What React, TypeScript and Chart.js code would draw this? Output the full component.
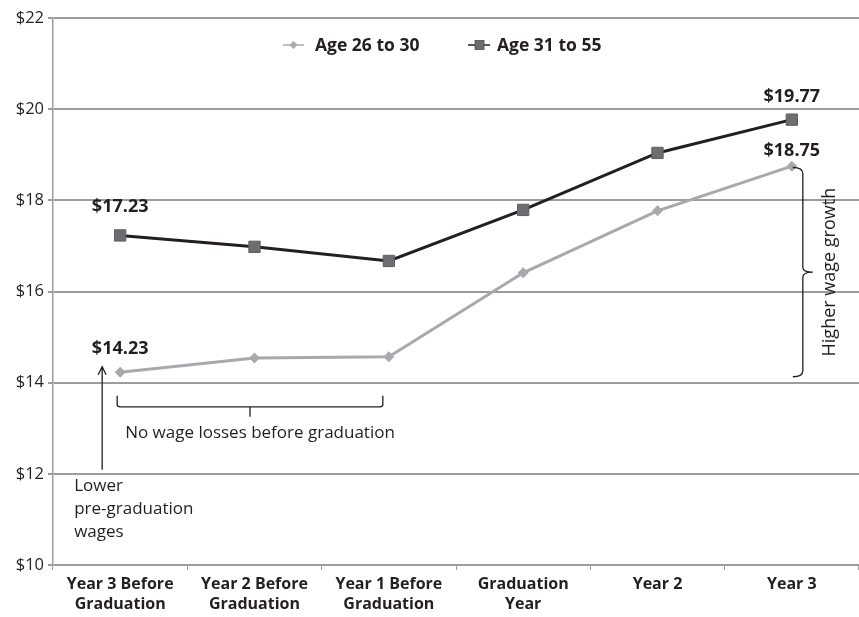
import React, { useEffect, useRef } from "react";
import { Chart, registerables } from "chart.js";

Chart.register(...registerables);

const categories: string[][] = [
  ["Year 3 Before", "Graduation"],
  ["Year 2 Before", "Graduation"],
  ["Year 1 Before", "Graduation"],
  ["Graduation", "Year"],
  ["Year 2"],
  ["Year 3"],
];

const age26to30: number[] = [14.23, 14.54, 14.57, 16.41, 17.77, 18.75];
const age31to55: number[] = [17.23, 16.98, 16.67, 17.79, 19.04, 19.77];

const yTicks: number[] = [10, 12, 14, 16, 18, 20, 22];

const FONT = "'Open Sans', 'DejaVu Sans', sans-serif";
const INK = "#231f20";
const LIGHT = "#a7a9ac";
const SQUARE = "#6d6e71";
const GRID = "#9a9c9f";

// Value labels, legend and the explanatory braces/arrow
const annotations = {
  id: "annotations",
  afterDraw(chart: any) {
    const { ctx } = chart;
    const xs = chart.scales.x;
    const ys = chart.scales.y;
    const X = (i: number) => xs.getPixelForValue(i);
    const Y = (v: number) => ys.getPixelForValue(v);

    ctx.save();
    ctx.fillStyle = INK;
    ctx.textAlign = "center";
    ctx.textBaseline = "middle";
    ctx.font = `bold 18px ${FONT}`;
    const last = categories.length - 1;
    ctx.fillText(`$${age31to55[0].toFixed(2)}`, X(0), Y(age31to55[0]) - 29);
    ctx.fillText(`$${age26to30[0].toFixed(2)}`, X(0), Y(age26to30[0]) - 23);
    ctx.fillText(`$${age31to55[last].toFixed(2)}`, X(last), Y(age31to55[last]) - 23);
    ctx.fillText(`$${age26to30[last].toFixed(2)}`, X(last), Y(age26to30[last]) - 15);

    // legend
    const ly = 45;
    ctx.font = `bold 17.5px ${FONT}`;
    ctx.textAlign = "left";
    ctx.strokeStyle = LIGHT;
    ctx.lineWidth = 1.5;
    ctx.beginPath();
    ctx.moveTo(283, ly);
    ctx.lineTo(304, ly);
    ctx.stroke();
    ctx.fillStyle = LIGHT;
    ctx.beginPath();
    ctx.moveTo(293.5, ly - 4);
    ctx.lineTo(297.5, ly);
    ctx.lineTo(293.5, ly + 4);
    ctx.lineTo(289.5, ly);
    ctx.closePath();
    ctx.fill();
    ctx.fillStyle = INK;
    ctx.fillText("Age 26 to 30", 315, ly + 1);

    ctx.strokeStyle = INK;
    ctx.beginPath();
    ctx.moveTo(468, ly);
    ctx.lineTo(490, ly);
    ctx.stroke();
    ctx.fillStyle = SQUARE;
    ctx.fillRect(475, ly - 4.5, 9, 9);
    ctx.strokeStyle = "#4d4d4f";
    ctx.lineWidth = 0.8;
    ctx.strokeRect(475, ly - 4.5, 9, 9);
    ctx.fillStyle = INK;
    ctx.fillText("Age 31 to 55", 497, ly + 1);

    ctx.strokeStyle = INK;
    ctx.lineWidth = 1.3;

    // right brace: growth gap
    const bx = X(last) + 11;
    const top = Y(18.72);
    const bot = Y(14.13);
    const mid = (top + bot) / 2;
    ctx.beginPath();
    ctx.moveTo(bx - 10, top);
    ctx.quadraticCurveTo(bx, top, bx, top + 6);
    ctx.lineTo(bx, mid - 5);
    ctx.quadraticCurveTo(bx, mid, bx + 10, mid);
    ctx.moveTo(bx, mid + 5);
    ctx.quadraticCurveTo(bx, mid, bx + 10, mid);
    ctx.moveTo(bx, mid + 5);
    ctx.lineTo(bx, bot - 6);
    ctx.quadraticCurveTo(bx, bot, bx - 10, bot);
    ctx.stroke();

    ctx.save();
    ctx.translate(bx + 27, mid);
    ctx.rotate(-Math.PI / 2);
    ctx.font = `18px ${FONT}`;
    ctx.textAlign = "center";
    ctx.textBaseline = "middle";
    ctx.fillText("Higher wage growth", 0, 0);
    ctx.restore();

    // bottom brace: pre-graduation period
    const hy = Y(13.47);
    const hl = X(0) - 3;
    const hr = X(2) - 6;
    const hm = (hl + hr) / 2;
    ctx.beginPath();
    ctx.moveTo(hl, hy - 11);
    ctx.lineTo(hl, hy - 2);
    ctx.quadraticCurveTo(hl, hy, hl + 3, hy);
    ctx.lineTo(hr - 3, hy);
    ctx.quadraticCurveTo(hr, hy, hr, hy - 2);
    ctx.lineTo(hr, hy - 11);
    ctx.moveTo(hm, hy);
    ctx.lineTo(hm, hy + 10);
    ctx.stroke();

    ctx.font = `17px ${FONT}`;
    ctx.textAlign = "center";
    ctx.textBaseline = "middle";
    ctx.fillText("No wage losses before graduation", hm + 10, Y(12.9));

    // arrow to the lower starting wage
    const ax = X(0) - 18;
    const aTop = Y(14.35);
    ctx.beginPath();
    ctx.moveTo(ax, Y(12.09));
    ctx.lineTo(ax, aTop);
    ctx.moveTo(ax - 4, aTop + 8);
    ctx.lineTo(ax, aTop);
    ctx.lineTo(ax + 4, aTop + 8);
    ctx.stroke();

    ctx.textAlign = "left";
    const lines = ["Lower", "pre-graduation", "wages"];
    lines.forEach((t, i) => ctx.fillText(t, ax - 28, Y(12.09) + 16 + i * 23));

    ctx.restore();
  },
};

export default function App() {
  const ref = useRef<HTMLCanvasElement | null>(null);

  useEffect(() => {
    if (!ref.current) return;
    const chart = new Chart(ref.current, {
      type: "line",
      data: {
        labels: categories as any,
        datasets: [
          {
            label: "Age 26 to 30",
            data: age26to30,
            borderColor: LIGHT,
            backgroundColor: LIGHT,
            borderWidth: 3,
            pointStyle: "rectRot",
            pointRadius: 5.5,
            pointBackgroundColor: LIGHT,
            pointBorderColor: LIGHT,
            pointBorderWidth: 0,
            tension: 0,
          },
          {
            label: "Age 31 to 55",
            data: age31to55,
            borderColor: INK,
            backgroundColor: SQUARE,
            borderWidth: 3,
            pointStyle: "rect",
            pointRadius: 8,
            pointBackgroundColor: SQUARE,
            pointBorderColor: "#5e5f62",
            pointBorderWidth: 1,
            tension: 0,
          },
        ],
      },
      options: {
        responsive: false,
        animation: false,
        layout: { autoPadding: false, padding: { top: 18, right: 0, left: 0, bottom: 0 } },
        plugins: {
          legend: { display: false },
          tooltip: { enabled: false },
        },
        scales: {
          x: {
            offset: true,
            grid: {
              offset: true,
              drawOnChartArea: false,
              drawTicks: true,
              tickLength: 5,
              color: GRID,
              lineWidth: 1,
            },
            border: { display: false },
            ticks: {
              color: INK,
              font: { family: FONT, size: 16, weight: "bold", lineHeight: 1.25 },
              padding: 4,
              maxRotation: 0,
              autoSkip: false,
            },
            afterFit(axis: any) {
              axis.height = 52;
              axis.paddingLeft = 0;
              axis.paddingRight = 0;
            },
          },
          y: {
            min: yTicks[0],
            max: yTicks[yTicks.length - 1],
            afterBuildTicks(axis: any) {
              axis.ticks = yTicks.map((v) => ({ value: v }));
            },
            grid: {
              color: GRID,
              lineWidth: 2,
              tickLength: 5,
            },
            border: { display: true, color: GRID, width: 1.5 },
            ticks: {
              color: INK,
              font: { family: FONT, size: 16.5 },
              padding: 4,
              callback: (v: any) => `$${v}`,
            },
            afterFit(axis: any) {
              axis.width = 53;
            },
          },
        },
      },
      plugins: [annotations],
    });
    return () => chart.destroy();
  }, []);

  return (
    <div style={{ position: "absolute", left: 0, top: 0, width: 859, height: 617, background: "#fff" }}>
      <canvas ref={ref} width={859} height={617} style={{ display: "block" }} />
    </div>
  );
}
